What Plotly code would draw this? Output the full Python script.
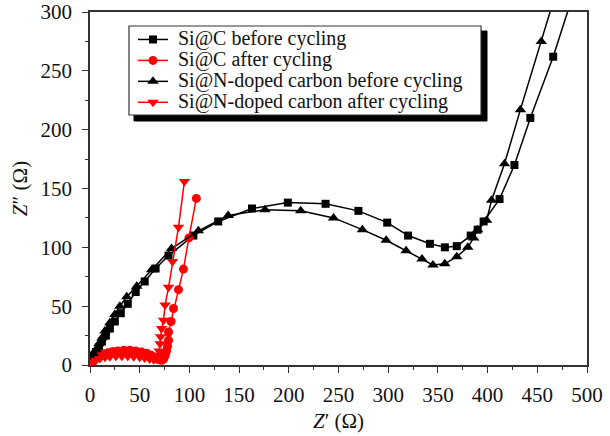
import plotly.graph_objects as go

# Nyquist data (Z' and Z'' in ohm)
sic_before_x = [0, 2, 4, 6, 9, 12, 16, 20, 25, 31, 38, 46, 55, 66, 79, 104, 129, 163, 199, 237, 270, 299, 320,
                342, 357, 369, 383, 390, 396, 412, 427, 443, 466, 488]
sic_before_y = [2, 5, 8, 11, 15, 20, 25, 31, 37, 44, 52, 62, 71, 82, 93, 110, 122, 133, 138, 137, 131, 121, 110,
                103, 100, 101, 110, 115, 122, 141, 170, 210, 262, 320]

sic_after_x = [1, 2, 4, 6, 8, 11, 14, 18, 23, 28, 34, 40, 46, 52, 57, 61, 64, 67, 70, 72, 74, 75, 76, 77, 78,
               79, 79, 81.5, 84, 89, 94, 99.5, 107]
sic_after_y = [1, 2.5, 4, 5.5, 7, 8.5, 9.5, 10.5, 11.5, 12, 12.5, 12.5, 12, 11, 10, 8.5, 7, 5.5, 4.5, 4, 5, 7,
               9, 12, 16, 21, 28, 37, 48, 64, 81.5, 108, 141.6]

sin_before_x = [0, 2, 4, 6, 9, 12, 15, 20, 25, 30, 37, 47, 62, 82, 109, 139, 176, 212, 245, 274, 298, 318, 334,
                345, 357, 369, 380, 386, 390, 399, 404, 417, 433, 454, 470]
sin_before_y = [2, 5, 9, 13, 18, 23, 29, 36, 43, 50, 58, 67, 81, 99, 114, 127, 132, 131, 125, 115, 106, 97, 90,
                85, 86, 92, 100, 108, 115, 123, 140, 171, 217, 275, 320]

sin_after_x = [1, 3, 6, 10, 15, 20, 26, 32, 38, 44, 50, 55, 60, 64, 67, 68.5, 69.5, 70.5, 71, 72, 74, 75.5, 79,
               83, 89, 95]
sin_after_y = [1, 2.5, 4, 5.5, 6.5, 7, 7.5, 7.5, 7.5, 7, 6.5, 6, 5, 4.5, 5, 8, 12, 18, 24, 31, 38, 51, 66, 88,
               117, 156]

series = [
    ("Si@C before cycling", sic_before_x, sic_before_y, "black", "square", 8),
    ("Si@C after cycling", sic_after_x, sic_after_y, "red", "circle", 9),
    ("Si@N-doped carbon before cycling", sin_before_x, sin_before_y, "black", "triangle-up", 10),
    ("Si@N-doped carbon after cycling", sin_after_x, sin_after_y, "red", "triangle-down", 10),
]

NB = "\u00a0"
fig = go.Figure()
for name, xs, ys, col, sym, sz in series:
    # bigger text inside a compact legend row
    label = '<span style="font-size:20px">' + NB + name + '</span>'
    fig.add_trace(go.Scatter(x=xs, y=ys, name=label, mode="lines+markers",
                             line=dict(color=col, width=1.5),
                             marker=dict(symbol=sym, size=sz, color=col)))

font = "Liberation Serif, Times New Roman, serif"

# legend frame with drop shadow, in pixel offsets from the plot corner
shadow = dict(x0=134, x1=487, y0=31, y1=121)
frame = dict(x0=129, x1=481, y0=26, y1=115)


def to_paper(box):
    return dict(x0=(box["x0"] - 90) / 497, x1=(box["x1"] - 90) / 497,
                y0=(365 - box["y1"]) / 353, y1=(365 - box["y0"]) / 353)


fig.add_shape(type="rect", xref="paper", yref="paper", fillcolor="black",
              line=dict(color="black", width=1), layer="above", **to_paper(shadow))
fig.add_shape(type="rect", xref="paper", yref="paper", fillcolor="white",
              line=dict(color="#333", width=1.2), layer="above", **to_paper(frame))

axis_common = dict(showline=True, linecolor="#333", linewidth=1.5, mirror=True, ticks="outside",
                   ticklen=6, tickwidth=1.2, tickcolor="#333", showgrid=False, zeroline=False,
                   automargin=False, ticklabeloverflow="allow",
                   tickfont=dict(family=font, size=21, color="#111"),
                   minor=dict(ticks="outside", ticklen=3, tickcolor="#333", dtick=25))

fig.update_xaxes(range=[0, 500], dtick=50, ticklabelstandoff=4,
                 title=dict(text="<i>Z</i>′ (Ω)", standoff=7,
                            font=dict(family=font, size=21, color="#111")), **axis_common)
fig.update_yaxes(range=[0, 300], dtick=50, ticklabelstandoff=6,
                 title=dict(text="<i>Z</i>″ (Ω)", standoff=7,
                            font=dict(family=font, size=21, color="#111")), **axis_common)

fig.update_layout(
    width=610, height=436,
    margin=dict(l=90, r=23, t=12, b=71),
    plot_bgcolor="white", paper_bgcolor="white",
    font=dict(family=font, color="#111"),
    legend=dict(x=0.0865, y=0.966, xanchor="left", yanchor="top", bgcolor="rgba(255,255,255,0)",
                borderwidth=0, font=dict(family=font, size=13.8), tracegroupgap=0),
)

# drop the default page margin so the figure fills the window
fig.write_html("out.html", config={"displayModeBar": False},
               post_script="document.body.style.margin='0';")
